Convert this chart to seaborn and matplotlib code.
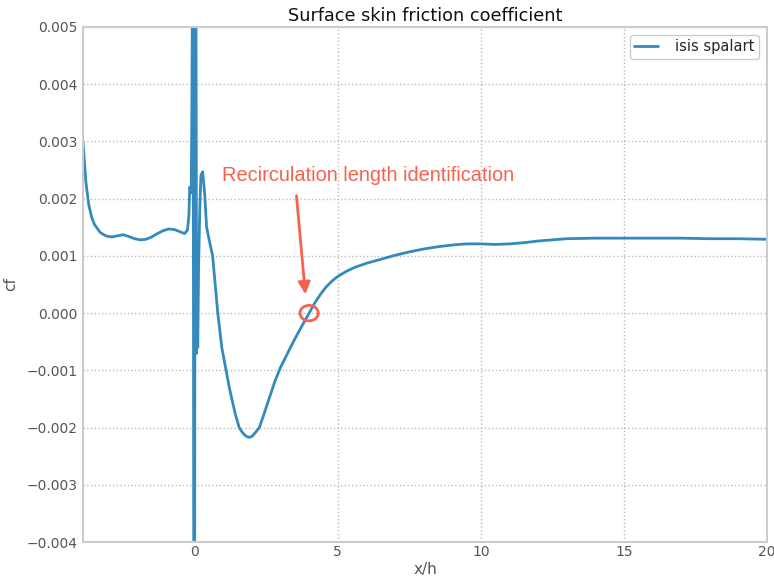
import matplotlib
matplotlib.use("Agg")
import matplotlib.pyplot as plt
import seaborn as sns
import pandas as pd
from matplotlib.patches import Ellipse

# ---- data ----
x_h = [-3.9, -3.8, -3.7, -3.6, -3.5, -3.3, -3.1, -2.9, -2.7, -2.5, -2.3, -2.1,
       -1.9, -1.7, -1.5, -1.3, -1.1, -0.9, -0.7, -0.5, -0.35, -0.25, -0.2,
       -0.17, -0.14, -0.12, -0.1, -0.08, -0.05, -0.03, 0.0, 0.02, 0.05, 0.07,
       0.09, 0.11, 0.14, 0.18, 0.22, 0.28, 0.35, 0.42, 0.5, 0.63, 0.72, 0.81,
       0.95, 1.1, 1.2, 1.3, 1.43, 1.56, 1.66, 1.75, 1.83, 1.91, 1.98, 2.05,
       2.15, 2.26, 2.4, 2.6, 2.8, 3.0, 3.2, 3.4, 3.6, 3.8, 4.0, 4.2, 4.4, 4.6,
       4.8, 5.0, 5.3, 5.6, 6.0, 6.5, 7.0, 7.5, 8.0, 8.5, 9.0, 9.5, 10.0, 10.5,
       11.0, 11.5, 12.0, 12.5, 13.0, 14.0, 15.0, 16.0, 17.0, 18.0, 19.0, 20.0]
cf = [0.0030, 0.0023, 0.0019, 0.00168, 0.00155, 0.00141, 0.00135, 0.00133,
      0.00135, 0.00137, 0.00134, 0.00130, 0.00128, 0.00129, 0.00133, 0.00139,
      0.00144, 0.00147, 0.00146, 0.00142, 0.00139, 0.00145, 0.0017, 0.0022,
      0.00215, 0.0021, 0.0032, 0.0052, 0.0052, -0.0045, -0.0045, 0.0052,
      0.0052, -0.0007, 0.0, -0.0006, 0.0008, 0.0018, 0.0024, 0.00247, 0.0021,
      0.0015, 0.0013, 0.0010, 0.0005, 0.0, -0.0006, -0.0010, -0.00127,
      -0.0015, -0.00178, -0.0020, -0.00208, -0.00213, -0.00216, -0.00217,
      -0.00216, -0.00213, -0.00207, -0.0020, -0.0018, -0.0015, -0.0012,
      -0.00095, -0.00075, -0.00055, -0.00036, -0.00018, 0.0, 0.00018, 0.00033,
      0.00046, 0.00056, 0.00064, 0.00073, 0.0008, 0.00087, 0.00094, 0.00101,
      0.00107, 0.00112, 0.00116, 0.00119, 0.00121, 0.00121, 0.0012, 0.00121,
      0.00123, 0.00126, 0.00128, 0.0013, 0.00131, 0.00131, 0.00131, 0.00131,
      0.0013, 0.0013, 0.00129]
series_name = "isis spalart"
title = "Surface skin friction coefficient"
annotation = "Recirculation length identification"
reattach_x, reattach_y = 4.0, 0.0

df = pd.DataFrame({"x/h": x_h, "cf": cf, "case": series_name})

sns.set_style("whitegrid")
plt.rcParams["font.family"] = ["DejaVu Sans"]

fig = plt.figure(figsize=(7.74, 5.83), dpi=100)
ax = fig.add_axes([0.1072, 0.0703, 0.8838, 0.8834])

sns.lineplot(data=df, x="x/h", y="cf", hue="case", sort=False, estimator=None,
             palette=["#348ABD"], linewidth=2, ax=ax)

ax.set_xlim(-3.9, 20)
ax.set_ylim(-0.004, 0.005)
ax.set_xticks([0, 5, 10, 15, 20])
ax.set_yticks([-0.004, -0.003, -0.002, -0.001, 0.0, 0.001, 0.002, 0.003, 0.004, 0.005])
ax.set_yticklabels(["\u22120.004", "\u22120.003", "\u22120.002", "\u22120.001", "0.000",
                    "0.001", "0.002", "0.003", "0.004", "0.005"])
ax.grid(True, linestyle=":", color="#bbbbbb", linewidth=1)
for s in ax.spines.values():
    s.set_color("#cccccc")
    s.set_linewidth(1.5)
ax.tick_params(axis="y", colors="#555555", labelsize=10, length=0, pad=4)
ax.tick_params(axis="x", colors="#555555", labelsize=10, length=0, pad=2)
ax.set_xlabel("x/h", fontsize=11, color="#555555", labelpad=2)
ax.set_ylabel("cf", fontsize=11, color="#555555", labelpad=6)
ax.set_title(title, fontsize=12.7, color="#111111", pad=4)

leg = ax.legend(loc="upper right", fontsize=10.5, frameon=True, handlelength=1.6,
                borderpad=0.3, borderaxespad=0.55, handletextpad=1.2)
leg.get_frame().set_edgecolor("#cccccc")
leg.get_frame().set_linewidth(1)
leg.get_frame().set_facecolor("white")
leg.get_frame().set_alpha(1)

red = "#F5634E"
ax.text(0.97, 0.00241, annotation, color=red, fontsize=14.4,
        family="Liberation Sans", va="center", ha="left")
ax.annotate("", xy=(3.88, 0.00028), xytext=(3.55, 0.00210),
            arrowprops=dict(arrowstyle="-|>", color=red, lw=2, mutation_scale=18))
ax.add_patch(Ellipse((reattach_x, reattach_y), width=0.64, height=0.00027,
                     fill=False, edgecolor=red, lw=2, zorder=5))

fig.savefig("out.png", dpi=100)
